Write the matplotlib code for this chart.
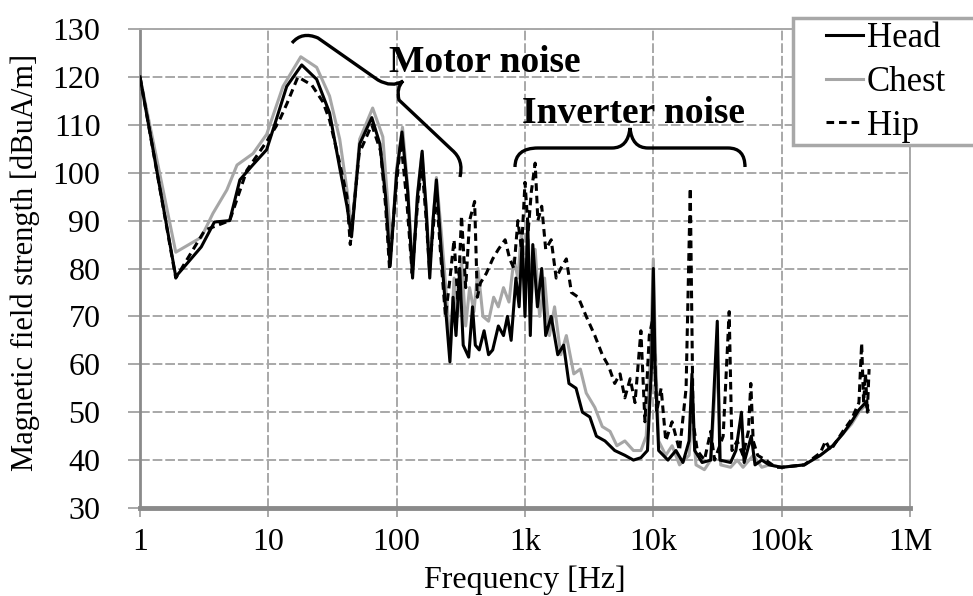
import matplotlib
matplotlib.use('Agg')
import matplotlib.pyplot as plt
from matplotlib.path import Path
from matplotlib.patches import PathPatch, Rectangle
from matplotlib.transforms import Affine2D

plt.rcParams['font.family'] = ['Liberation Serif', 'DejaVu Serif']

# Head (black solid)
head_f = [1, 1.9, 3.0, 3.8, 5.0, 6.0, 7.5, 9.7, 11.5, 13.9, 18.2, 23.8, 30, 36, 41, 44.5,
          51.5, 64, 74, 82, 89, 100, 110, 122, 133, 145, 158, 170, 181, 192, 204, 222,
          240, 260, 275, 290, 310, 330, 364, 390, 410, 440, 480, 520, 560, 620, 680,
          730, 780, 850, 900, 950, 1000, 1050, 1100, 1150, 1250, 1350, 1450, 1600,
          1800, 2000, 2200, 2500, 2800, 3200, 3600, 4200, 5000, 6000, 7000, 8000,
          9000, 9700, 10000, 10300, 11000, 13000, 15000, 17000, 19000, 20000, 21000,
          24000, 28000, 31500, 33000, 40000, 44000, 48600, 51000, 58000, 62000, 70000,
          80000, 100000, 150000, 200000, 250000, 300000, 350000, 400000, 450000, 470000]
head_db = [120, 78.3, 84.5, 89.7, 90, 98.5, 101.5, 104.8, 111, 118, 122.5, 119.5, 112.5, 101, 93, 86.6,
           106, 111.5, 106, 95, 80.5, 100, 108.5, 96, 78, 95, 104.5, 92, 78, 90, 98.5, 84,
           72, 60.5, 74, 66, 80, 64, 61.5, 72, 64, 63, 67, 62, 63, 68, 66,
           70, 65, 78, 72, 86, 70, 90, 66, 85, 72, 80, 66, 70,
           62, 64, 56, 55, 50, 49, 45, 44, 42, 41, 40, 40.5,
           42, 60, 80, 60, 42, 40, 42, 39.5, 44, 58, 42,
           39.5, 40, 69, 40, 39.5, 42, 50, 39.5, 45, 39, 40,
           39, 38.5, 39, 41, 43, 45.5, 48, 50.5, 52, 50.5]

# Chest (grey solid)
chest_f = [1, 1.9, 3.0, 3.7, 4.75, 5.7, 7.6, 9.7, 13, 17.9, 23.8, 30, 36, 41, 44.5, 51.5,
           65, 78, 84, 91, 100, 111, 122, 133, 146, 157, 170, 181, 192, 204, 222, 245,
           262, 280, 300, 320, 345, 370, 400, 430, 470, 520, 570, 620, 680, 750, 820,
           880, 940, 1000, 1060, 1120, 1200, 1300, 1420, 1550, 1700, 1900, 2100, 2400,
           2700, 3000, 3500, 4000, 4600, 5200, 6000, 7000, 8000, 8800, 9500, 10000,
           10400, 11000, 12500, 14000, 16000, 19000, 20000, 21500, 25000, 28000, 31500,
           33500, 40000, 45000, 50000, 60000, 70000, 80000, 100000, 150000, 200000,
           250000, 300000, 350000, 400000, 450000, 470000]
chest_db = [120, 83.4, 86.5, 91.5, 96.4, 101.6, 104, 108, 118, 124.2, 122, 116, 107, 96.4, 88, 107,
            113.5, 107.5, 96, 84.5, 101, 109.5, 97, 80, 96, 104, 93, 80, 90, 99, 88, 74,
            63, 78, 70, 82, 68, 76, 71, 80, 70, 69, 74, 72, 76, 73, 82,
            78, 88, 74, 86, 73, 84, 70, 78, 66, 72, 62, 66, 58,
            59, 54, 51, 47, 46, 43, 44, 42, 42, 45, 62, 82,
            62, 44, 41, 43, 39, 41, 50, 39, 38, 40, 62,
            39, 38.5, 40, 38.5, 41, 38.5, 39, 38.5, 39, 41,
            43, 45.5, 47.5, 50, 51.5, 50.5]

# Hip (black dashed)
hip_f = [1, 1.9, 3.2, 5.0, 6.8, 9.7, 12, 14, 17, 21.8, 26.6, 30, 36, 41, 43.5, 51,
         64, 75, 82, 88, 99, 108, 120, 132, 145, 157, 170, 180, 192, 204, 220, 240,
         258, 280, 300, 320, 345, 370, 405, 425, 450, 500, 560, 620, 700, 760, 820,
         880, 940, 1000, 1060, 1120, 1200, 1260, 1350, 1450, 1600, 1750, 1900, 2100,
         2300, 2600, 3000, 3500, 4000, 4500, 5000, 5500, 6000, 6600, 7200, 8000, 8600,
         9300, 10000, 10600, 11500, 12500, 14000, 16000, 18000, 19400, 20400, 22000,
         25000, 28000, 30000, 35000, 39000, 41000, 45000, 50000, 55000, 57500, 60000,
         65000, 75000, 90000, 100000, 150000, 200000, 220000, 240000, 300000, 350000,
         400000, 420000, 435000, 450000, 465000, 480000]
hip_db = [120, 78, 88, 90, 100.5, 106.5, 110.5, 114.5, 120, 118.3, 114.8, 111, 102, 95, 85, 104,
          110, 104.5, 93, 80, 97, 106.5, 94, 79, 93, 102, 90, 80, 88, 96, 83, 70,
          77, 86, 73, 91, 76, 90, 94, 74, 77, 79, 82, 84, 86, 82, 80,
          90, 84, 98, 88, 96, 102, 90, 93, 84, 86, 78, 80, 82,
          75, 74, 70, 66, 62, 59.5, 56, 58, 53, 57, 52, 67, 48,
          66, 70, 50, 55, 44, 48, 42, 55, 96.8, 48, 42,
          40, 46, 40, 45, 71, 42, 44, 41, 46, 56, 44,
          41, 40, 38.5, 38.5, 39, 41.5, 44, 42, 46, 48.5,
          52, 64.4, 52, 58, 50, 59]

xtick_vals = [1, 10, 100, 1000, 10000, 100000, 1000000]
xtick_labels = ['1', '10', '100', '1k', '10k', '100k', '1M']
ytick_vals = [30, 40, 50, 60, 70, 80, 90, 100, 110, 120, 130]

W, H = 973, 596
fig = plt.figure(figsize=(W / 100, H / 100), dpi=100)
ax = fig.add_axes([140 / W, 1 - 508 / H, 770 / W, 479 / H])

ax.plot(head_f, head_db, color='black', lw=2.2, label='Head', zorder=3)
ax.plot(chest_f, chest_db, color='#a6a6a6', lw=2.2, label='Chest', zorder=2)
ax.plot(hip_f, hip_db, color='black', lw=2.2, ls=(0, (2.5, 1.6)), label='Hip', zorder=4)

ax.set_xscale('log')
ax.set_xlim(1, 1e6)
ax.set_ylim(30, 130)
ax.set_xticks(xtick_vals)
ax.set_xticklabels(xtick_labels)
ax.set_yticks(ytick_vals)
ax.minorticks_off()
ax.grid(True, color='#a8a8a8', lw=1.4, ls=(0, (5, 1.5)))
ax.set_axisbelow(True)

for s in ['top', 'right']:
    ax.spines[s].set_color('#a8a8a8')
    ax.spines[s].set_linewidth(1.4)
ax.spines['left'].set_color('#8a8a8a')
ax.spines['left'].set_linewidth(2)
ax.spines['bottom'].set_color('#8a8a8a')
ax.spines['bottom'].set_linewidth(3.5)

ax.tick_params(axis='y', direction='out', length=8.5, width=1.4, color='#a8a8a8',
               pad=20, labelsize=23)
ax.tick_params(axis='x', direction='out', length=6.5, width=1.4, color='#a8a8a8',
               pad=8, labelsize=23)

fig.text(25 / W, 1 - 262 / H, 'Magnetic field strength [dBuA/m]', rotation=90,
         ha='center', va='center', fontsize=22)
fig.text(525 / W, 1 - 580 / H, 'Frequency [Hz]', ha='center', va='center', fontsize=23)

fig.text(485 / W, 1 - 72 / H, 'Motor noise', ha='center', va='baseline',
         fontsize=27, fontweight='bold')
fig.text(634 / W, 1 - 123 / H, 'Inverter noise', ha='center', va='baseline',
         fontsize=27, fontweight='bold')

# braces, drawn in pixel coordinates of the figure (y from top)
px = Affine2D().scale(1 / W, -1 / H).translate(0, 1) + fig.transFigure
M, L, Q = Path.MOVETO, Path.LINETO, Path.CURVE3
motor = Path([(292, 43), (302, 31), (318, 38), (378, 80), (392, 88), (403, 81),
              (396, 88), (399, 100), (452, 150), (464, 160), (460, 177)],
             [M, Q, Q, L, Q, Q, Q, Q, L, Q, Q])
inverter = Path([(515, 167), (515, 148), (538, 148), (612, 148), (628, 148), (630, 128),
                 (632, 148), (648, 148), (728, 148), (745, 148), (745, 167)],
                [M, Q, Q, L, Q, Q, Q, Q, L, Q, Q])
for p in (motor, inverter):
    fig.patches.append(PathPatch(p, transform=px, fill=False, lw=2.4, ec='black'))

# legend box runs off the right edge as in the original
box = Rectangle((793, 145), 200, -127, transform=px, fc='white', ec='#a8a8a8',
                lw=2.5, clip_on=False, zorder=4.5)
ax.add_patch(box)
leg = ax.legend(loc='upper left', bbox_to_anchor=(826 / W, 1 - 22 / H),
                bbox_transform=fig.transFigure, fontsize=25, frameon=False,
                handlelength=1.07, handletextpad=0.1,
                borderpad=0, labelspacing=0.31, borderaxespad=0)
leg.set_zorder(5)

fig.savefig('out.png', dpi=100)
